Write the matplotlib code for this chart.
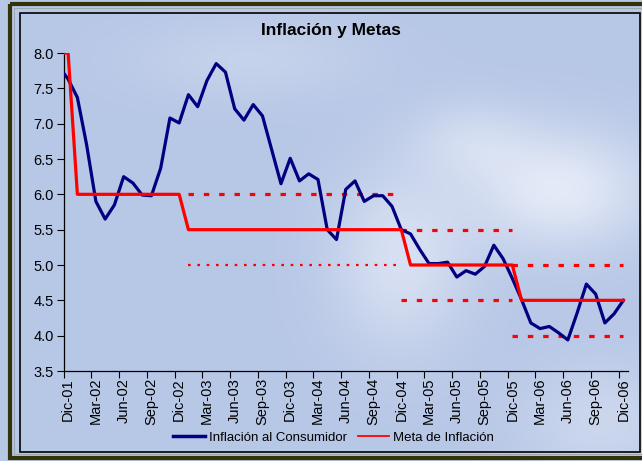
import numpy as np
import matplotlib
matplotlib.use("Agg")
import matplotlib.pyplot as plt
from matplotlib.lines import Line2D
from matplotlib.patches import Rectangle

plt.rcParams['font.family'] = ['Liberation Sans', 'DejaVu Sans']

# --- DATOS ---
meses = ['Ene', 'Feb', 'Mar', 'Abr', 'May', 'Jun', 'Jul', 'Ago', 'Sep', 'Oct', 'Nov', 'Dic']
# Nov-01 queda fuera del eje (se recorta), la serie visible arranca en Dic-01
periodos = ['Nov-01', 'Dic-01'] + [f'{m}-{a:02d}' for a in range(2, 7) for m in meses]

inflacion = [7.81, 7.63, 7.37, 6.70, 5.90, 5.65, 5.85, 6.25, 6.16, 5.99, 5.98, 6.37,
             7.08, 7.01, 7.41, 7.24, 7.61, 7.85, 7.73, 7.21, 7.05, 7.27, 7.11, 6.63,
             6.15, 6.51, 6.19, 6.29, 6.21, 5.50, 5.36, 6.07, 6.19, 5.90, 5.98, 5.98,
             5.83, 5.50, 5.44, 5.22, 5.02, 5.02, 5.04, 4.83, 4.92, 4.87, 4.98, 5.28,
             5.09, 4.81, 4.51, 4.18, 4.10, 4.13, 4.04, 3.94, 4.32, 4.73, 4.59, 4.18,
             4.31, 4.50]

meta = [8.0, 8.0] + [6.0] * 12 + [5.5] * 24 + [5.0] * 12 + [4.5] * 12

# bandas de la meta: (desde, hasta, techo, piso)
bandas_inicio = ['Ene-03', 'Dic-04', 'Dic-05']
bandas_fin = ['Dic-04', 'Dic-05', 'Dic-06']
bandas_techo = [6.0, 5.5, 5.0]
bandas_piso = [5.0, 4.5, 4.0]

etiquetas_x = periodos[1::3]

# --- FIGURA ---
fig = plt.figure(figsize=(6.42, 4.61), dpi=100)

# fondo azul claro con zonas más claras
bg = fig.add_axes([0, 0, 1, 1], zorder=-10)
H, W = 461, 642
yy, xx = np.mgrid[0:H, 0:W]
base = np.array([183, 199, 230]) / 255.0
luz = np.zeros((H, W))
for cx, cy, sx, sy, a in [(560, 190, 90, 60, 0.75), (400, 260, 70, 90, 0.55),
                          (250, 60, 120, 40, 0.25), (600, 420, 80, 60, 0.35),
                          (470, 140, 60, 40, 0.35)]:
    luz += a * np.exp(-(((xx - cx) / sx) ** 2 + ((yy - cy) / sy) ** 2))
luz = np.clip(luz, 0, 1)
img = base[None, None, :] * (1 - luz[..., None]) + np.array([0.95, 0.96, 0.99]) * luz[..., None]
bg.imshow(img, extent=[0, W, H, 0], aspect='auto')
bg.set_xlim(0, W)
bg.set_ylim(H, 0)
bg.axis('off')
# marcos
bg.add_patch(Rectangle((10, 4), 640, 454, fill=False, edgecolor='#33330a', linewidth=3.0))
bg.add_patch(Rectangle((14, 8), 640, 446, fill=False, edgecolor='#a0a8b8', linewidth=0.8))
bg.add_patch(Rectangle((20, 13), 620, 439, fill=False, edgecolor='black', linewidth=1.2))

ax = fig.add_axes([63.5 / 642, 1 - 371 / 461, (628 - 63.5) / 642, (371 - 53) / 461])
ax.patch.set_alpha(0)

x = np.arange(len(periodos))
idx = {p: i for i, p in enumerate(periodos)}

for ini, fin, techo, piso, k in zip(bandas_inicio, bandas_fin, bandas_techo, bandas_piso,
                                     range(len(bandas_techo))):
    xs = [idx[ini], idx[fin]]
    ax.plot(xs, [techo, techo], color='#ff0000', linewidth=2.3,
            linestyle=(0, (1.7, 3.1)), dash_capstyle='butt', zorder=2)
    if k == 0:
        ax.plot(xs, [piso, piso], color='#ff0000', linewidth=1.6,
                linestyle=(0, (1.2, 3.0)), dash_capstyle='butt', zorder=2)
    else:
        ax.plot(xs, [piso, piso], color='#ff0000', linewidth=2.3,
                linestyle=(0, (1.7, 3.1)), dash_capstyle='butt', zorder=2)

ax.plot(x, inflacion, color='#000080', linewidth=2.3, zorder=3)
ax.plot(x, meta, color='#ff0000', linewidth=2.3, zorder=4)

ax.set_xlim(0.5, len(periodos) - 0.5)
ax.set_ylim(3.5, 8.0)
ax.set_yticks(np.arange(3.5, 8.01, 0.5))
ax.set_yticklabels([f'{v:.1f}' for v in np.arange(3.5, 8.01, 0.5)], fontsize=10.5)

ax.set_xticks(np.arange(0.5, len(periodos) - 0.5, 3))
ax.set_xticklabels([])
ax.set_xticks(np.arange(1, len(periodos), 3), minor=True)
ax.set_xticklabels(etiquetas_x, minor=True, rotation=90, fontsize=10.5)
ax.tick_params(axis='x', which='minor', length=0, pad=5)
ax.tick_params(axis='both', which='major', length=5, width=0.8, direction='out', color='black')
ax.tick_params(axis='y', pad=2)

for s in ['top', 'right']:
    ax.spines[s].set_visible(False)
for s in ['left', 'bottom']:
    ax.spines[s].set_color('black')
    ax.spines[s].set_linewidth(0.9)

fig.text(0.515, 0.933, 'Inflación y Metas', ha='center', va='center',
         fontsize=12.5, fontweight='bold')

handles = [Line2D([], [], color='#000080', linewidth=2.5),
           Line2D([], [], color='#ff0000', linewidth=1.3)]
fig.legend(handles, ['Inflación al Consumidor', 'Meta de Inflación'],
           loc='center', bbox_to_anchor=(0.52, 0.05), ncol=2, frameon=False,
           fontsize=9.5, handlelength=2.4, handletextpad=0.3, columnspacing=0.8)

fig.savefig('out.png', dpi=100)
